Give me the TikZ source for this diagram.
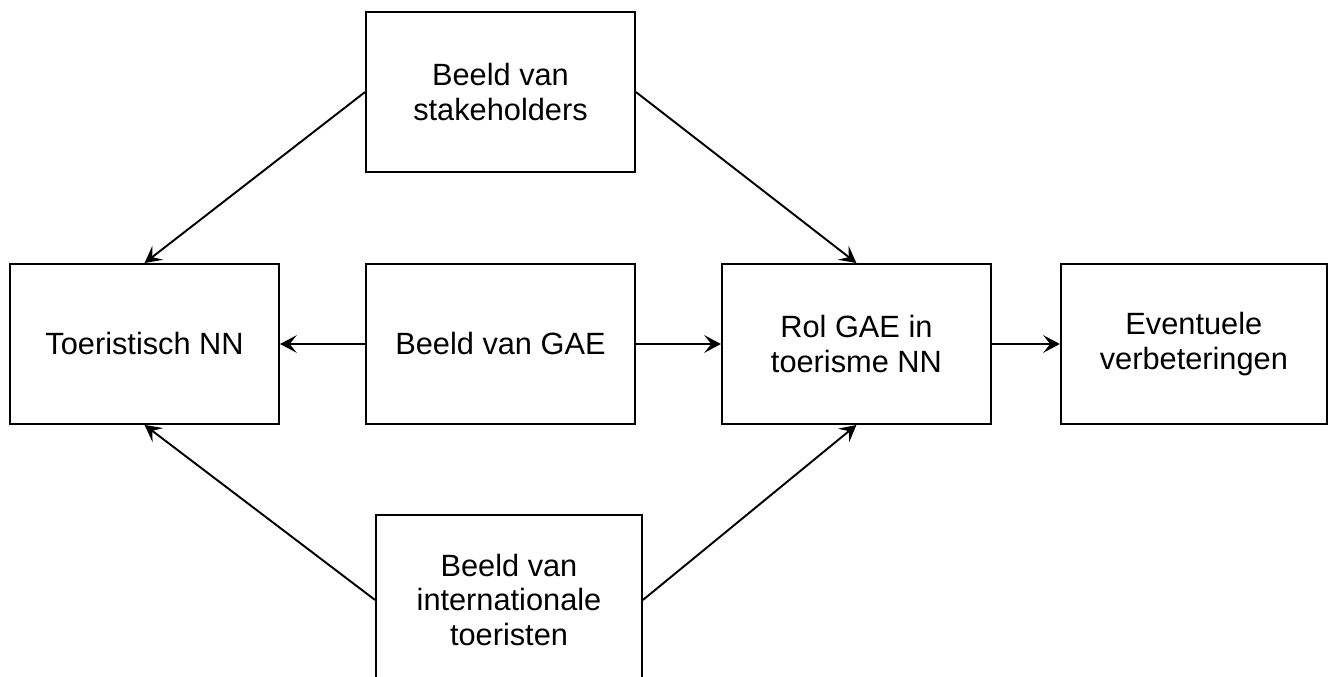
\documentclass[tikz,border=0pt]{standalone}
\usepackage{fontspec}
\setmainfont{Liberation Sans}
\usetikzlibrary{arrows.meta,positioning}
\definecolor{ink}{RGB}{0,0,0}
\tikzset{
  >={Stealth[length=9.5pt,width=10pt,inset=4pt]},
  box/.style={draw=#1,line width=1.1pt,minimum width=5.38cm,minimum height=3.2cm,
    align=center,inner sep=0pt,font=\fontsize{17.5}{19.5}\selectfont},
  box/.default=ink,
  flow/.style={->,line width=1.1pt,draw=#1},
  flow/.default=ink,
}
\begin{document}
\begin{tikzpicture}
  \useasboundingbox (-10.01,6.88) rectangle (16.69,-6.66);
  \clip (-10.01,6.88) rectangle (16.69,-6.66);
  % middle row
  \node[box] (gae) at (0,0) {Beeld van GAE};
  \node[box,left=1.7cm of gae] (toer) {Toeristisch NN};
  \node[box,right=1.7cm of gae] (rol) {Rol GAE in\\toerisme NN};
  \node[box,right=1.36cm of rol,minimum width=5.32cm] (verb) {Eventuele\\verbeteringen};
  % top and bottom
  \node[box,above=1.8cm of gae] (stake) {Beeld van\\stakeholders};
  \node[box,below=1.78cm of gae,xshift=0.17cm,minimum width=5.32cm,minimum height=3.4cm] (intl) {Beeld van\\internationale\\toeristen};
  % connectors
  \draw[flow] (gae) -- (toer);
  \draw[flow] (gae) -- (rol);
  \draw[flow] (rol) -- (verb);
  \draw[flow] (stake.west) -- (toer.north);
  \draw[flow] (stake.east) -- (rol.north);
  \draw[flow] (intl.west) -- (toer.south);
  \draw[flow] (intl.east) -- (rol.south);
\end{tikzpicture}
\end{document}
